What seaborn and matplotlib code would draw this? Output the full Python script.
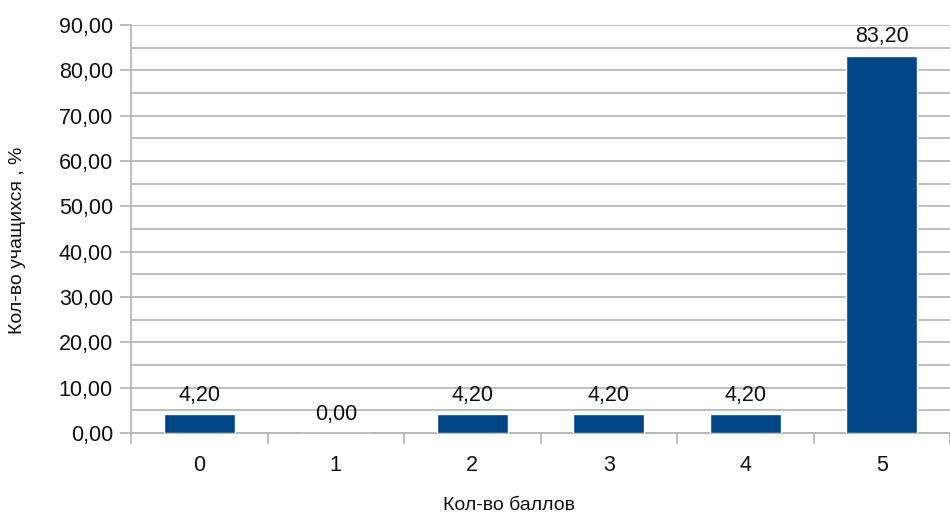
import matplotlib
matplotlib.use("Agg")
import matplotlib.pyplot as plt
import seaborn as sns
import pandas as pd
from matplotlib.ticker import MultipleLocator, FuncFormatter

categories = ["0", "1", "2", "3", "4", "5"]
values = [4.20, 0.00, 4.20, 4.20, 4.20, 83.20]
x_label = "Кол-во баллов"
y_label = "Кол-во учащихся , %"

sns.set_style("white")
plt.rcParams['font.family'] = ['Liberation Sans', 'DejaVu Sans']

df = pd.DataFrame({"cat": categories, "val": values})

fig = plt.figure(figsize=(9.5, 5.14), dpi=100)
ax = fig.add_axes([131/950, 1-433/514, (950-131)/950, (433-25)/514])

grid_c = "#b3b3b3"
txt_c = "#111111"
ax.set_ylim(0, 90)
ax.yaxis.set_major_locator(MultipleLocator(10))
ax.yaxis.set_minor_locator(MultipleLocator(5))
ax.grid(axis="y", which="both", color=grid_c, linewidth=1.2, zorder=0)
ax.set_axisbelow(True)

sns.barplot(data=df, x="cat", y="val", color="#004586", width=0.52,
            saturation=1, ax=ax, zorder=3)
ax.set_xlim(-0.5, 5.5)

fmt = lambda v: f"{v:.2f}".replace(".", ",")
ax.yaxis.set_major_formatter(FuncFormatter(lambda v, p: fmt(v)))
for i, v in enumerate(values):
    ax.annotate(fmt(v), (i, v), xytext=(0, 6), textcoords="offset points",
                ha="center", va="bottom", fontsize=15.5, color=txt_c)

for s in ["top", "right"]:
    ax.spines[s].set_visible(False)
ax.spines["left"].set_color(grid_c)
ax.spines["bottom"].set_color(grid_c)
ax.spines["left"].set_linewidth(1.2)
ax.spines["bottom"].set_linewidth(1.2)

ax.tick_params(axis="y", which="major", left=True, length=8, width=1.2,
               color=grid_c, labelsize=15.5, labelcolor=txt_c, pad=5)
ax.tick_params(axis="y", which="minor", left=False)
# x tick marks at category boundaries
ax.set_xticks(range(len(categories)))
ax.set_xticklabels(categories)
ax.tick_params(axis="x", which="major", bottom=False, labelsize=15.5,
               labelcolor=txt_c, pad=12)
ax.set_xticks([i + 0.5 for i in range(-1, len(categories))], minor=True)
ax.tick_params(axis="x", which="minor", bottom=True, length=8, width=1.2,
               color=grid_c)

ax.set_xlabel(x_label, fontsize=14, color=txt_c)
ax.set_ylabel(y_label, fontsize=14, color=txt_c)
ax.xaxis.set_label_coords((509-131)/819, -(505-433)/408)
ax.yaxis.set_label_coords(-(131-18)/819, (433-240)/408)
ax.xaxis.label.set_va("center")
ax.yaxis.label.set_va("center")

fig.savefig("out.png", dpi=100)
